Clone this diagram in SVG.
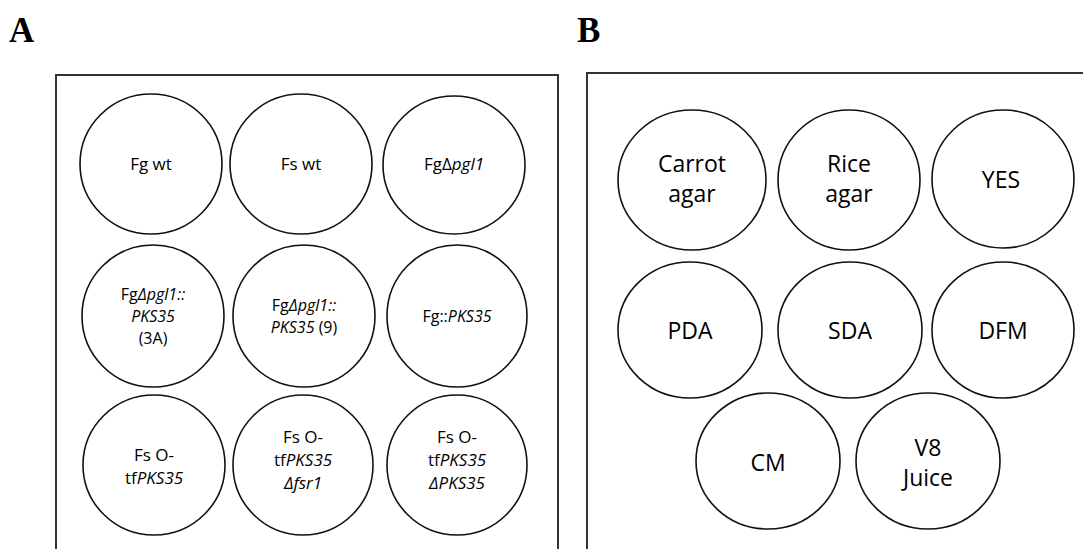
<svg xmlns="http://www.w3.org/2000/svg" width="1083" height="549" viewBox="0 0 1083 549">
<style>
.bg{fill:#fff}
.frame{fill:none;stroke:#333;stroke-width:2}
.well{fill:#fff;stroke:#111;stroke-width:1.6}
.lbl{font-family:"Liberation Serif","Times New Roman",serif;font-weight:bold;font-size:35px;fill:#000}
.a1{font-family:"Open Sans","Noto Sans",sans-serif;font-size:17px;fill:#000;text-anchor:middle}
.a{font-family:"Open Sans","Noto Sans",sans-serif;font-size:16px;fill:#000;text-anchor:middle}
.a3{font-family:"Open Sans","Noto Sans",sans-serif;font-size:17px;fill:#000;text-anchor:middle}
.b{font-family:"Open Sans","Noto Sans",sans-serif;font-size:23px;fill:#000;text-anchor:middle}
.i{font-style:italic}
</style>
<rect class="bg" x="0" y="0" width="1083" height="549"/>
<text class="lbl" x="9" y="42">A</text>
<text class="lbl" x="577" y="42">B</text>
<g id="panelA">
<path class="frame" d="M56,560 V75 H558 V560"/>
<g id="a1"><ellipse class="well" cx="151" cy="164" rx="71" ry="70"/><text class="a1" x="151" y="170">Fg wt</text></g>
<g id="a2"><ellipse class="well" cx="301" cy="164" rx="71" ry="70"/><text class="a1" x="301" y="170">Fs wt</text></g>
<g id="a3"><ellipse class="well" cx="454" cy="165" rx="71" ry="69"/><text class="a1" x="454" y="170">FgΔ<tspan class="i">pgl1</tspan></text></g>
<g id="a4"><ellipse class="well" cx="153" cy="316" rx="71" ry="71"/><text class="a" x="153" y="300">Fg<tspan class="i">Δpgl1::</tspan></text><text class="a i" x="153" y="322">PKS35</text><text class="a" x="153" y="344">(3A)</text></g>
<g id="a5"><ellipse class="well" cx="304" cy="316" rx="71" ry="71"/><text class="a" x="304" y="311">Fg<tspan class="i">Δpgl1::</tspan></text><text class="a" x="304" y="333"><tspan class="i">PKS35</tspan> (9)</text></g>
<g id="a6"><ellipse class="well" cx="457" cy="316" rx="70" ry="71"/><text class="a" x="457" y="322">Fg::<tspan class="i">PKS35</tspan></text></g>
<g id="a7"><ellipse class="well" cx="154" cy="465" rx="71" ry="70"/><text class="a3" x="154" y="461">Fs O-</text><text class="a3" x="154" y="484">tf<tspan class="i">PKS35</tspan></text></g>
<g id="a8"><ellipse class="well" cx="303" cy="465" rx="70" ry="70"/><text class="a3" x="303" y="443">Fs O-</text><text class="a3" x="303" y="466">tf<tspan class="i">PKS35</tspan></text><text class="a3 i" x="303" y="489">Δfsr1</text></g>
<g id="a9"><ellipse class="well" cx="457" cy="465" rx="70" ry="70"/><text class="a3" x="457" y="443">Fs O-</text><text class="a3" x="457" y="466">tf<tspan class="i">PKS35</tspan></text><text class="a3 i" x="457" y="489">ΔPKS35</text></g>
</g>
<g id="panelB">
<path class="frame" d="M587,560 V73 H1090"/>
<g id="b1"><ellipse class="well" cx="692" cy="180" rx="74" ry="70"/><text class="b" x="692" y="172">Carrot</text><text class="b" x="692" y="202">agar</text></g>
<g id="b2"><ellipse class="well" cx="849" cy="180" rx="71" ry="70"/><text class="b" x="849" y="172">Rice</text><text class="b" x="849" y="202">agar</text></g>
<g id="b3"><ellipse class="well" cx="1003" cy="179" rx="71" ry="69"/><text class="b" x="1001" y="188">YES</text></g>
<g id="b4"><ellipse class="well" cx="690" cy="330" rx="72" ry="68"/><text class="b" x="690" y="339">PDA</text></g>
<g id="b5"><ellipse class="well" cx="850" cy="330" rx="72" ry="68"/><text class="b" x="850" y="339">SDA</text></g>
<g id="b6"><ellipse class="well" cx="1003" cy="330" rx="71" ry="68"/><text class="b" x="1003" y="339">DFM</text></g>
<g id="b7"><ellipse class="well" cx="768" cy="461" rx="72" ry="68"/><text class="b" x="768" y="471">CM</text></g>
<g id="b8"><ellipse class="well" cx="928" cy="461" rx="72" ry="68"/><text class="b" x="928" y="456">V8</text><text class="b" x="928" y="486">Juice</text></g>
</g>
<g id="connectors"/>
</svg>
